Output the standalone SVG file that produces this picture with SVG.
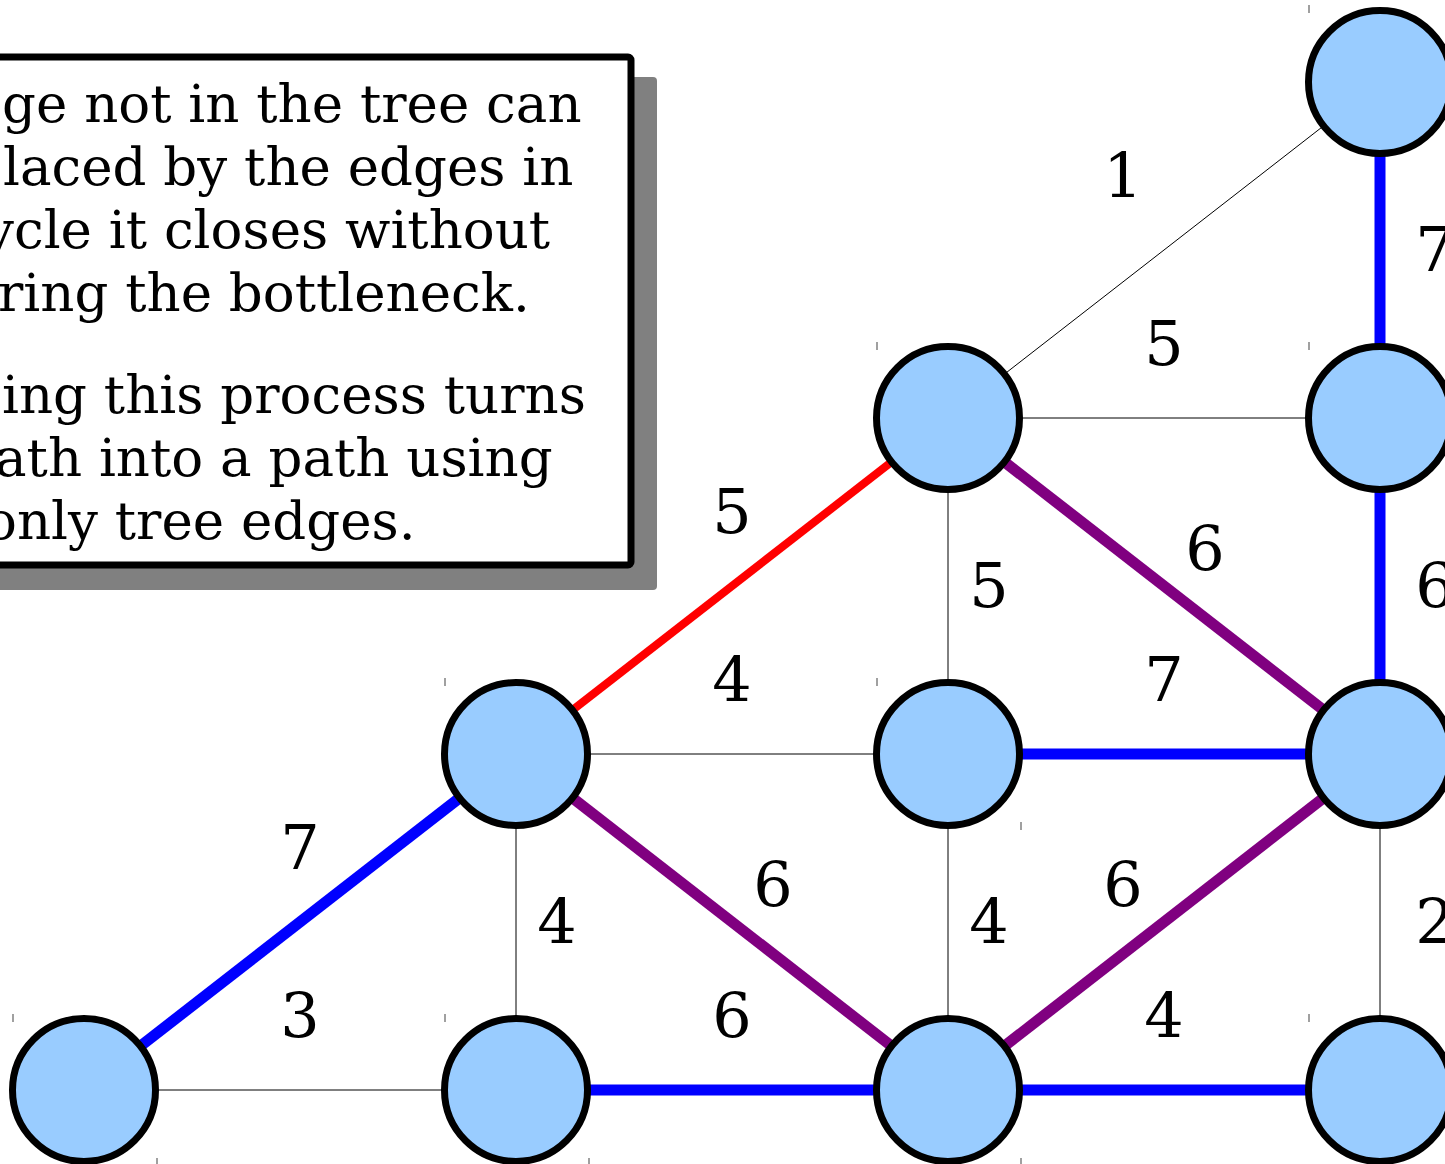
<svg xmlns="http://www.w3.org/2000/svg" width="1445" height="1164" viewBox="0 0 1445 1164">
<style>
.n{fill:#99ccff;stroke:#000;stroke-width:7}
.thin{stroke:#000;stroke-width:1;fill:none}
.tree{stroke:#0000ff;stroke-width:11;fill:none}
.cyc{stroke:#800080;stroke-width:11;fill:none}
.new{stroke:#ff0000;stroke-width:8;fill:none}
.lbl{font-family:"DejaVu Serif",serif;font-size:62px;fill:#000;text-anchor:middle}
.txt{font-family:"DejaVu Serif",serif;font-size:53px;fill:#000}
.tick{stroke:#808080;stroke-width:1.5}
</style>
<rect width="1445" height="1164" fill="#fff"/>
<g id="note">
<rect x="-20" y="77" width="677" height="513" rx="4" fill="#808080"/>
<rect x="-20" y="57" width="651" height="508" rx="3" fill="#fff" stroke="#000" stroke-width="7"/>
<text class="txt" x="2" y="122">ge not in the tree can</text>
<text class="txt" x="3" y="185">laced by the edges in</text>
<text class="txt" x="-16" y="248">ycle it closes without</text>
<text class="txt" x="-2" y="311">ring the bottleneck.</text>
<text class="txt" x="2" y="413">ing this process turns</text>
<text class="txt" x="-5" y="476">ath into a path using</text>
<text class="txt" x="-15" y="539">only tree edges.</text>
</g>
<g id="ticks">
<line class="tick" x1="1309" y1="5" x2="1309" y2="13"/>
<line class="tick" x1="877" y1="342" x2="877" y2="350"/>
<line class="tick" x1="1309" y1="342" x2="1309" y2="350"/>
<line class="tick" x1="445" y1="678" x2="445" y2="686"/>
<line class="tick" x1="877" y1="678" x2="877" y2="686"/>
<line class="tick" x1="13" y1="1014" x2="13" y2="1022"/>
<line class="tick" x1="445" y1="1014" x2="445" y2="1022"/>
<line class="tick" x1="1309" y1="1014" x2="1309" y2="1022"/>
<line class="tick" x1="1021" y1="822" x2="1021" y2="830"/>
<line class="tick" x1="157" y1="1158" x2="157" y2="1166"/>
<line class="tick" x1="589" y1="1158" x2="589" y2="1166"/>
<line class="tick" x1="1021" y1="1158" x2="1021" y2="1166"/>
</g>
<g id="edges">
<line class="thin" x1="1380" y1="82" x2="948" y2="418"/>
<line class="tree" x1="1380" y1="82" x2="1380" y2="418"/>
<line class="thin" x1="948" y1="418" x2="1380" y2="418"/>
<line class="tree" x1="1380" y1="418" x2="1380" y2="754"/>
<line class="new" x1="948" y1="418" x2="516" y2="754"/>
<line class="thin" x1="948" y1="418" x2="948" y2="754"/>
<line class="cyc" x1="948" y1="418" x2="1380" y2="754"/>
<line class="thin" x1="516" y1="754" x2="948" y2="754"/>
<line class="tree" x1="948" y1="754" x2="1380" y2="754"/>
<line class="tree" x1="516" y1="754" x2="84" y2="1090"/>
<line class="thin" x1="516" y1="754" x2="516" y2="1090"/>
<line class="cyc" x1="516" y1="754" x2="948" y2="1090"/>
<line class="thin" x1="948" y1="754" x2="948" y2="1090"/>
<line class="cyc" x1="1380" y1="754" x2="948" y2="1090"/>
<line class="thin" x1="1380" y1="754" x2="1380" y2="1090"/>
<line class="thin" x1="84" y1="1090" x2="516" y2="1090"/>
<line class="tree" x1="516" y1="1090" x2="948" y2="1090"/>
<line class="tree" x1="948" y1="1090" x2="1380" y2="1090"/>
</g>
<g id="labels">
<text class="lbl" x="1123" y="197">1</text>
<text class="lbl" x="1435" y="271">7</text>
<text class="lbl" x="1164" y="365">5</text>
<text class="lbl" x="1435" y="607">6</text>
<text class="lbl" x="732" y="533">5</text>
<text class="lbl" x="989" y="607">5</text>
<text class="lbl" x="1205" y="570">6</text>
<text class="lbl" x="732" y="701">4</text>
<text class="lbl" x="1164" y="701">7</text>
<text class="lbl" x="300" y="869">7</text>
<text class="lbl" x="557" y="943">4</text>
<text class="lbl" x="773" y="906">6</text>
<text class="lbl" x="989" y="943">4</text>
<text class="lbl" x="1123" y="906">6</text>
<text class="lbl" x="1435" y="943">2</text>
<text class="lbl" x="300" y="1037">3</text>
<text class="lbl" x="732" y="1037">6</text>
<text class="lbl" x="1164" y="1037">4</text>
</g>
<g id="node-J"><circle class="n" cx="1380" cy="82" r="71.5"/></g>
<g id="node-H"><circle class="n" cx="948" cy="418" r="71.5"/></g>
<g id="node-I"><circle class="n" cx="1380" cy="418" r="71.5"/></g>
<g id="node-E"><circle class="n" cx="516" cy="754" r="71.5"/></g>
<g id="node-F"><circle class="n" cx="948" cy="754" r="71.5"/></g>
<g id="node-G"><circle class="n" cx="1380" cy="754" r="71.5"/></g>
<g id="node-A"><circle class="n" cx="84" cy="1090" r="71.5"/></g>
<g id="node-B"><circle class="n" cx="516" cy="1090" r="71.5"/></g>
<g id="node-C"><circle class="n" cx="948" cy="1090" r="71.5"/></g>
<g id="node-D"><circle class="n" cx="1380" cy="1090" r="71.5"/></g>
</svg>
